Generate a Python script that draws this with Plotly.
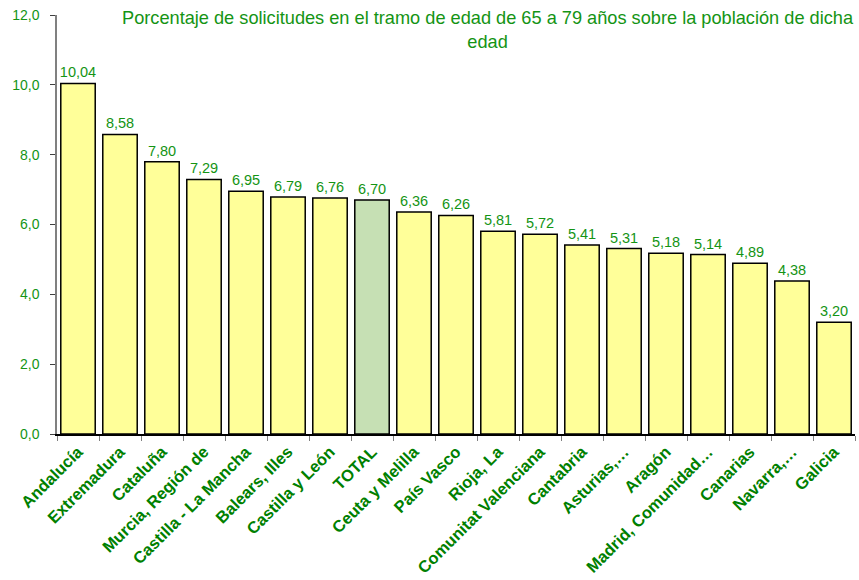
import plotly.graph_objects as go

categories = ["Andalucía", "Extremadura", "Cataluña", "Murcia, Región de", "Castilla - La Mancha",
              "Balears, Illes", "Castilla y León", "TOTAL", "Ceuta y Melilla", "País Vasco",
              "Rioja, La", "Comunitat Valenciana", "Cantabria", "Asturias,…", "Aragón",
              "Madrid, Comunidad…", "Canarias", "Navarra,…", "Galicia"]
values = [10.04, 8.58, 7.80, 7.29, 6.95, 6.79, 6.76, 6.70, 6.36, 6.26, 5.81, 5.72, 5.41, 5.31,
          5.18, 5.14, 4.89, 4.38, 3.20]

colors = ["#C6E0B4" if c == "TOTAL" else "#FFFF99" for c in categories]

fig = go.Figure(go.Bar(
    x=categories, y=values,
    marker=dict(color=colors, line=dict(color="black", width=1.5)),
    text=values, texttemplate="%{y:.2f}", textposition="outside",
    constraintext="none",
    textfont=dict(family="Arial", size=14.5, color="#149414"),
    cliponaxis=False, width=0.82,
))

fig.update_layout(
    width=859, height=580,
    margin=dict(l=57, r=4, t=15, b=146),
    plot_bgcolor="white", paper_bgcolor="white",
    separators=",.",
    showlegend=False,
    font=dict(family="Arial"),
    annotations=[dict(
        text="Porcentaje de solicitudes en el tramo de edad de 65 a 79 años sobre la población de dicha<br>edad",
        xref="paper", yref="paper", x=0.54, y=1.022, xanchor="center", yanchor="top",
        showarrow=False, font=dict(family="Arial", size=18.2, color="#149414"),
    )],
)
fig.update_yaxes(range=[0, 12], dtick=2, tickformat=".1f", showgrid=False,
                 showline=True, linecolor="#808080", linewidth=1.5,
                 ticks="outside", ticklen=5, tickcolor="#404040",
                 ticklabelstandoff=8,
                 tickfont=dict(family="Arial", size=14, color="#149414"), zeroline=False)
fig.update_xaxes(showgrid=False, showline=True, linecolor="black", linewidth=1.5,
                 ticks="outside", ticklen=5, tickcolor="#808080", tickson="boundaries",
                 tickangle=-45,
                 tickfont=dict(family="Arial", size=16.5, color="#008000", weight="bold"))

fig.write_html("out.html", config={"displayModeBar": False})

with open("out.html", encoding="utf-8") as f:
    html = f.read()
html = html.replace("<head>", "<head><style>html,body{margin:0;padding:0;}</style>", 1)
with open("out.html", "w", encoding="utf-8") as f:
    f.write(html)
